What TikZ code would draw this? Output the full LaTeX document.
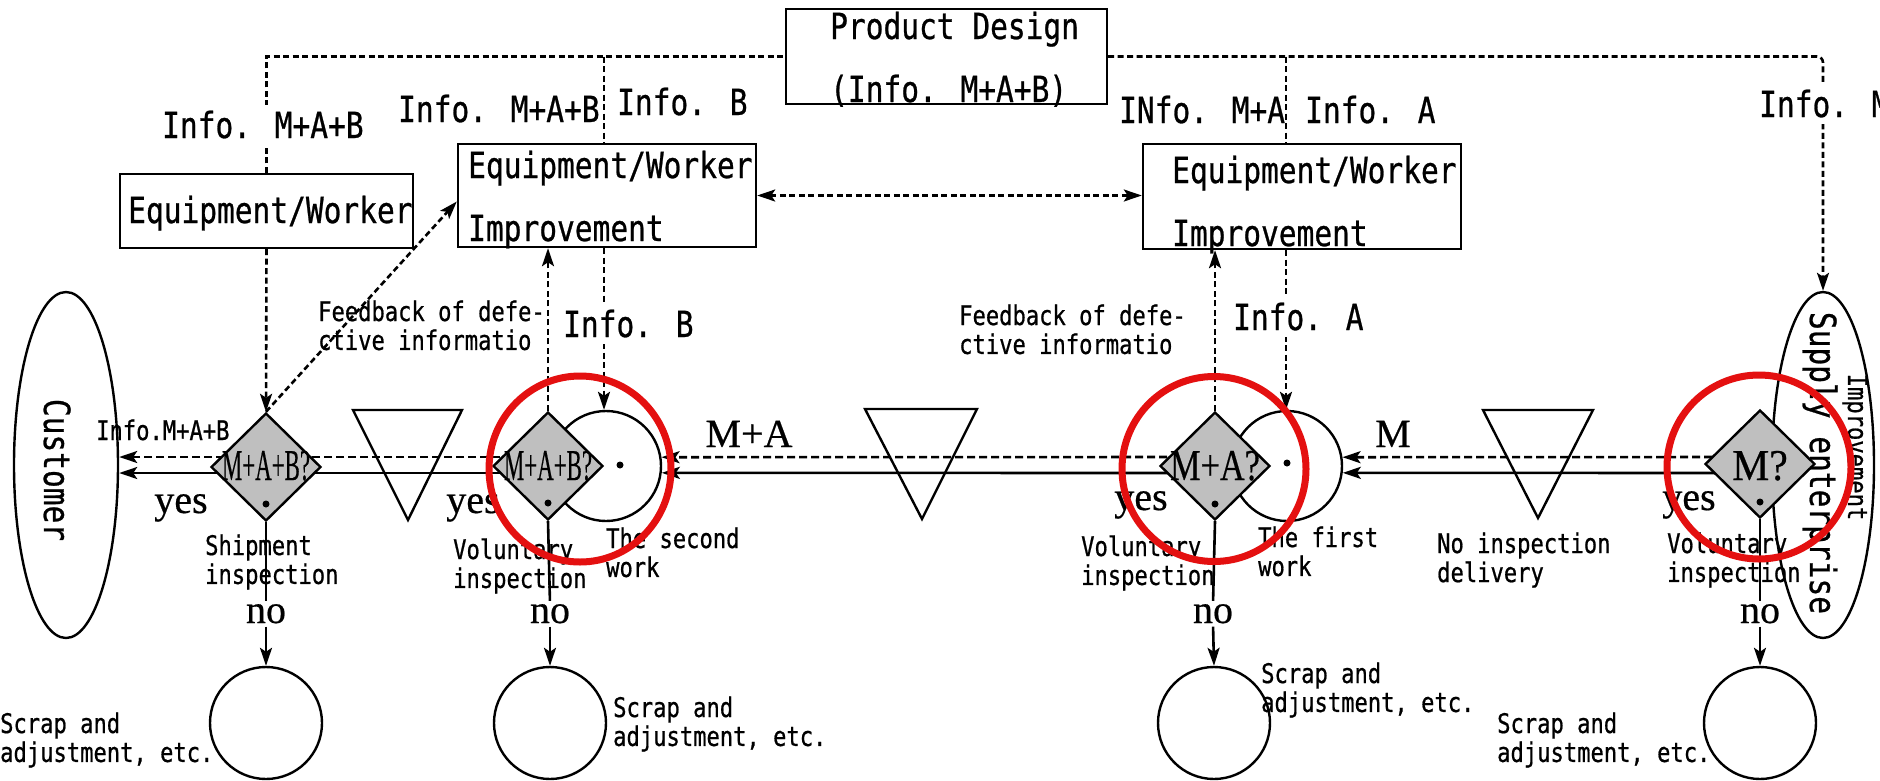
\documentclass[tikz,border=0pt]{standalone}
\usepackage{fontspec}
\usepackage{graphicx}
\usetikzlibrary{arrows.meta,shapes.geometric}
\newfontfamily\goth[FakeStretch=0.82,FakeBold=0.7]{DejaVu Sans Mono}
\newfontfamily\minc[FakeBold=0.5]{Liberation Serif}
\definecolor{ringred}{RGB}{228,16,16}
\pgfdeclarelayer{under}
\pgfsetlayers{under,main}
% two left-aligned lines, node baseline = first line
\newcommand{\twoline}[2]{\begin{tabular}[t]{@{}l@{}}#1\\#2\end{tabular}}
\begin{document}
\begin{tikzpicture}[x=1pt,y=-1pt,
  big/.style={font=\goth\fontsize{36}{63}\selectfont, inner sep=0pt, anchor=base west},
  sm/.style={font=\goth\fontsize{27}{28}\selectfont, inner sep=0pt, anchor=base west},
  ser/.style={font=\minc\fontsize{40}{44}\selectfont, inner sep=0pt, anchor=base},
  dtext/.style={font=\minc\fontsize{44}{48}\selectfont, inner sep=0pt, anchor=base},
  mask/.style={fill=white, inner xsep=1pt, inner ysep=6pt},
  boxn/.style={draw, rectangle, line width=2.4pt, inner sep=0pt},
  dia/.style={draw, diamond, line width=2.4pt, fill=black!25, inner sep=0pt, minimum width=110pt, minimum height=108pt},
  circ/.style={draw, circle, line width=2.4pt, fill=white, inner sep=0pt, minimum size=110pt},
  ell/.style={draw, ellipse, line width=2.4pt, inner sep=0pt},
  tri/.style={line width=2.4pt, line join=miter},
  flowline/.style={line width=2.6pt},
  dl/.style={line width=2.6pt, dash pattern=on 6pt off 3.5pt},
  mdash/.style={line width=2.6pt, dash pattern=on 8pt off 4pt},
  tip/.style={-{Stealth[length=18pt,width=12pt,inset=4pt]}},
  dtip/.style={{Stealth[length=18pt,width=12pt,inset=4pt]}-{Stealth[length=18pt,width=12pt,inset=4pt]}},
  ring/.style={draw=ringred, ellipse, line width=7pt, inner sep=0pt}
]
\useasboundingbox (0,0) rectangle (1880,780);

% ---------- boxes ----------
\node[boxn, minimum width=293pt, minimum height=74pt]  (box1) at (266.5,211) {};
\node[boxn, minimum width=298pt, minimum height=103pt] (box2) at (607,195.5) {};
\node[boxn, minimum width=318pt, minimum height=105pt] (box3) at (1302,196.5) {};
\node[boxn, minimum width=321pt, minimum height=95pt]  (pd)   at (946.5,56.5) {};

\node[big] (tpd) at (830,39)  {\twoline{Product Design}{(Info. M+A+B)}};
\node[big] (tb1) at (128,223) {Equipment/Worker};
\node[big] (tb2) at (468,178) {\twoline{Equipment/Worker}{Improvement}};
\node[big] (tb3) at (1172,183) {\twoline{Equipment/Worker}{Improvement}};

% ---------- process line shapes ----------
\node[ell, minimum width=104pt, minimum height=346pt] (cust) at (66,465) {};
\node[ell, minimum width=102pt, minimum height=346pt] (sup)  at (1823,465) {};
\node[circ] (c2) at (606,466) {};
\node[circ] (c1) at (1287,466) {};
\node[dia] (d1) at (266,467) {};
\node[dia] (d2) at (548,466) {};
\node[dia] (d3) at (1215,466) {};
\node[dia] (d4) at (1760,464) {};
\node[circ, minimum size=112pt] (s1) at (266,723) {};
\node[circ, minimum size=112pt] (s2) at (550,723) {};
\node[circ, minimum size=112pt] (s3) at (1214,723) {};
\node[circ, minimum size=112pt] (s4) at (1760,723) {};

% storage triangles
\draw[tri] (353,410) -- (462,410) -- (408,520) -- cycle;
\draw[tri] (865,409) -- (977,409) -- (922,519) -- cycle;
\draw[tri] (1483,410) -- (1593,410) -- (1538,518) -- cycle;

% dots
\fill ([yshift=-37pt]d1.center) circle (3.5pt);
\fill ([yshift=-37pt]d2.center) circle (3.5pt);
\fill ([yshift=-38pt]d3.center) circle (3.5pt);
\fill ([yshift=-38pt]d4.center) circle (3.5pt);
\fill ([xshift=14pt,yshift=1pt]c2.center) circle (3.5pt);
\fill ([yshift=3pt]c1.center) circle (3.5pt);

% diamond labels
\node[dtext] (q1) at ([yshift=-13pt]d1.center) {\scalebox{0.52}[1]{M+A+B?}};
\node[dtext] (q2) at ([yshift=-14pt]d2.center) {\scalebox{0.52}[1]{M+A+B?}};
\node[dtext] (q3) at ([yshift=-14pt]d3.center) {\scalebox{0.78}[1]{M+A?}};
\node[dtext] (q4) at ([yshift=-16pt]d4.center) {\scalebox{0.95}[1]{M?}};

% yes / no
\node[ser] (y1) at (181,513)  {yes};
\node[ser] (y2) at (473,513)  {yes};
\node[ser] (y3) at (1141,510) {yes};
\node[ser] (y4) at (1689,510) {yes};
\node[ser] (n1) at (266,623)  {no};
\node[ser] (n2) at (550,623)  {no};
\node[ser] (n3) at (1213,623) {no};
\node[ser] (n4) at (1760,623) {no};
\node[ser] (lma) at (749,447) {M+A};
\node[ser] (lm)  at (1393,447) {M};

% information labels
\node[big, mask] (i1) at (161,138) {Info. M+A+B};
\node[big] (i2) at (398,122) {Info. M+A+B};
\node[big] (i3) at (617,115) {Info. B};
\node[big] (i4) at (1119,123) {INfo. M+A};
\node[big] (i5) at (1305,123) {Info. A};
\node[big, mask] (i6) at (1758,117) {Info. M};
\node[big, mask] (i7) at (562,337) {Info. B};
\node[big, mask] (i8) at (1232,330) {Info. A};
\node[sm] (i9) at (96,440) {Info.M+A+B};

\node[sm] (fb1) at (318,321) {\twoline{Feedback of defe-}{ctive informatio}};
\node[sm] (fb2) at (959,325) {\twoline{Feedback of defe-}{ctive informatio}};

\node[sm] (l1) at (205,555)  {\twoline{Shipment}{inspection}};
\node[sm] (l2) at (453,559)  {\twoline{Voluntary}{inspection}};
\node[sm] (l3) at (606,548)  {\twoline{The second}{work}};
\node[sm] (l4) at (1081,556) {\twoline{Voluntary}{inspection}};
\node[sm] (l5) at (1258,547) {\twoline{The first}{work}};
\node[sm] (l6) at (1437,553) {\twoline{No inspection}{delivery}};
\node[sm] (l7) at (1667,553) {\twoline{Voluntary}{inspection}};

\node[sm] (r1) at (0,733)    {\twoline{Scrap and}{adjustment, etc.}};
\node[sm] (r2) at (613,717)  {\twoline{Scrap and}{adjustment, etc.}};
\node[sm] (r3) at (1261,683) {\twoline{Scrap and}{adjustment, etc.}};
\node[sm] (r4) at (1497,733) {\twoline{Scrap and}{adjustment, etc.}};

\node[big, rotate=-90, anchor=base] (tc) at (44,470) {Customer};
\node[big, rotate=-90, anchor=base] (ts) at (1810,463) {Supply enterprise};
\node[sm, rotate=-90, anchor=base] (tim) at (1848,447) {Improvement};

% ---------- connectors (underneath the shapes) ----------
\begin{pgfonlayer}{under}
\fill[white] (0,0) rectangle (1880,780);
\coordinate (j2) at (604,56.5);
\coordinate (j3) at (1286,56.5);
% product design information
\draw[dl] (box1.north) |- (pd.west);
\draw[dl, tip, rounded corners=6pt] (pd.east) -| (sup.north);
\draw[dl] (j2) -- (j2 |- box2.north);
\draw[dl] (j3) -- (j3 |- box3.north);
\draw[dl, tip] (box1.south) -- (d1.north);
\draw[dl, tip] (j2 |- box2.south) -- (j2 |- c2.north);
\draw[dl, tip] (j3 |- box3.south) -- (j3 |- c1.north);
% defect feedback
\draw[dl, tip] (d1.north) -- ([yshift=-6pt]box2.west);
\draw[dl, tip] (d2.north) -- (d2.north |- box2.south);
\draw[dl, tip] (d3.north) -- (d3.north |- box3.south);
\draw[dl, dtip] (box2.east) -- (box2.east -| box3.west);
% material and information flow
\draw[mdash, tip]    ([yshift=7pt]d4.center)  -- (c1.9);
\draw[flowline, tip] ([yshift=-9pt]d4.center) -- (c1.-7);
\draw[mdash, tip]    ([yshift=9pt]d3.center)  -- (c2.9);
\draw[flowline, tip] ([yshift=-7pt]d3.center) -- (c2.-7);
\draw[mdash, tip]    ([yshift=9pt]d2.center)  -- ([yshift=8pt]cust.east);
\draw[flowline, tip] ([yshift=-7pt]d2.center) -- ([yshift=-8pt]cust.east);
% rejected parts
\draw[flowline, shorten >=3pt] (d1.south) -- (n1.north);
\draw[flowline, shorten >=3pt] (d2.south) -- (n2.north);
\draw[flowline, shorten >=3pt] (d3.south) -- (n3.north);
\draw[flowline, shorten >=3pt] (d4.south) -- (n4.north);
\draw[flowline, tip, shorten <=3pt] (n1.south) -- (s1.north);
\draw[flowline, tip, shorten <=3pt] (n2.south) -- (s2.north);
\draw[flowline, tip, shorten <=3pt] (n3.south) -- (s3.north);
\draw[flowline, tip, shorten <=3pt] (n4.south) -- (s4.north);
\end{pgfonlayer}

% ---------- highlight rings ----------
\node[ring, minimum width=182pt, minimum height=186pt] (h1) at (580,469) {};
\node[ring, minimum width=184pt, minimum height=185pt] (h2) at (1214,469) {};
\node[ring, minimum width=184pt, minimum height=184pt] (h3) at (1759,467) {};
\end{tikzpicture}
\end{document}
